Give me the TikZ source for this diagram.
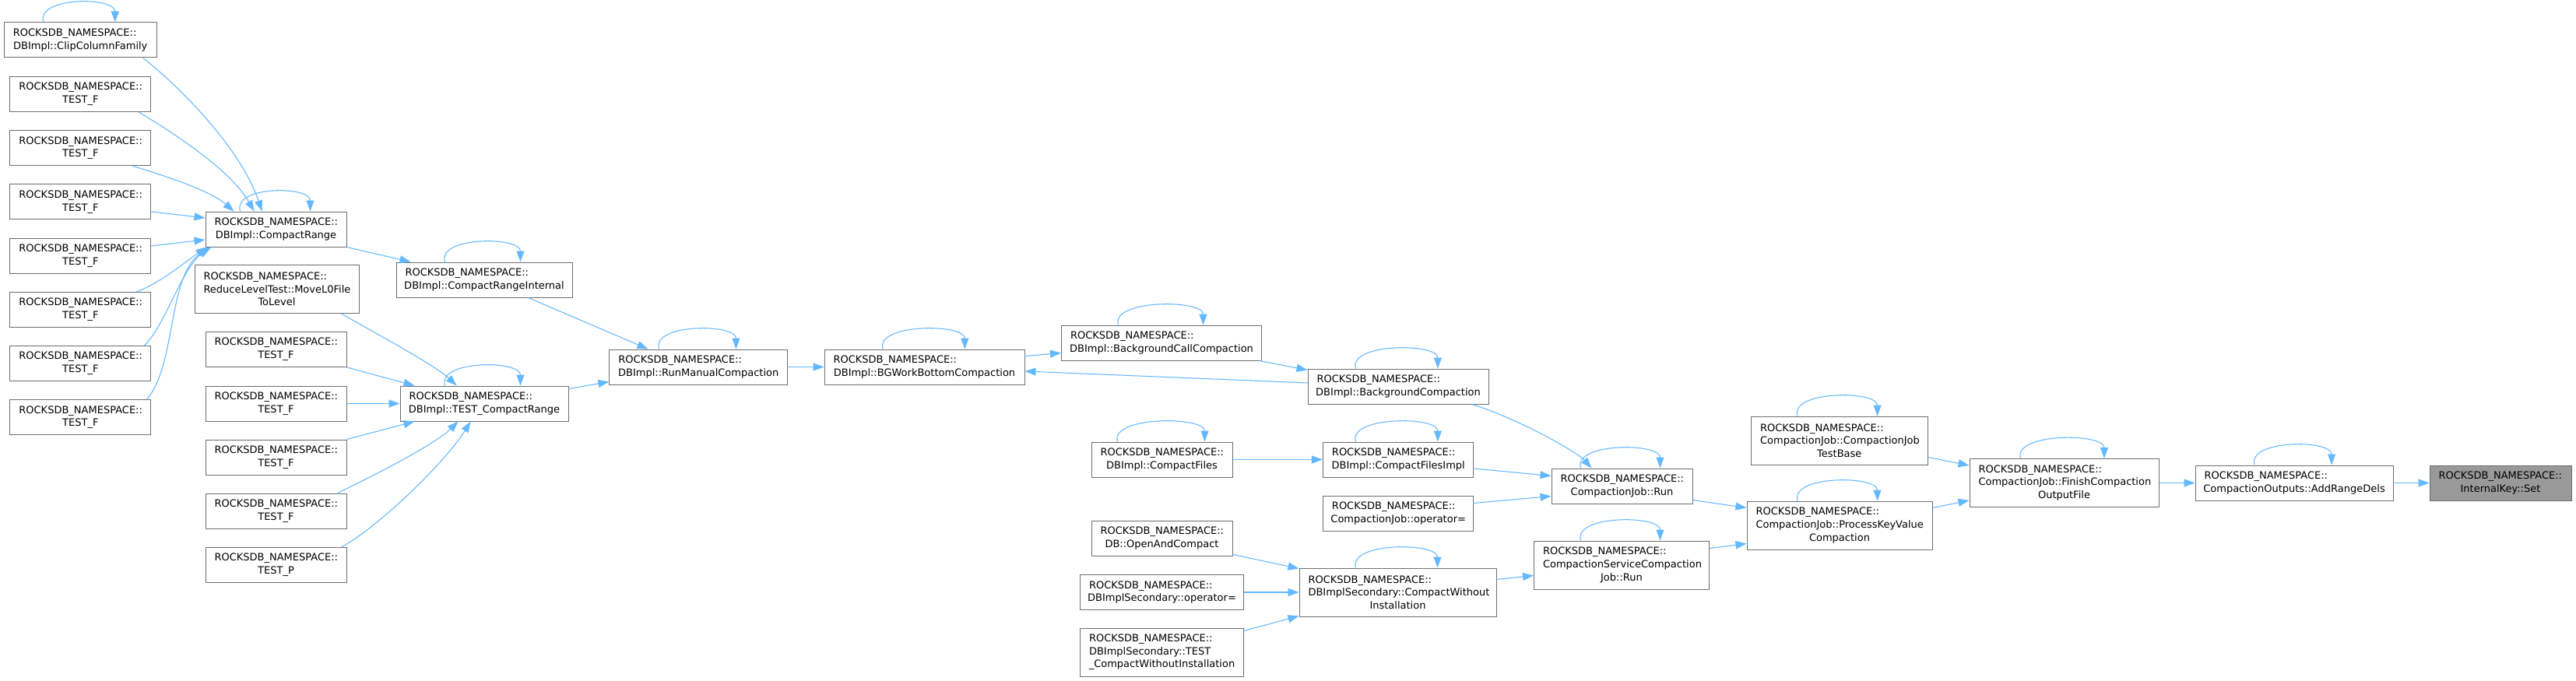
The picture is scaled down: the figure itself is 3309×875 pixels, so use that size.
\documentclass[tikz,border=0pt]{standalone}
\usepackage{fontspec}
\setmainfont{DejaVu Sans}
\usetikzlibrary{arrows.meta,calc}
\setlength\parindent{0pt}
\definecolor{boxline}{HTML}{6E6E6E}
\definecolor{hlfill}{HTML}{999999}
\definecolor{edgec}{HTML}{63B8FF}
\tikzset{
  box/.style 2 args={draw=boxline, fill=white, line width=1pt, minimum width=#1pt,
    text width=#2pt, minimum height=45pt, inner xsep=9pt, inner ysep=0pt,
    align=center, font=\fontsize{13}{16.7}\selectfont},
  tall/.style={minimum height=62pt},
  hl/.style={fill=hlfill, draw=boxline},
  edge/.style={draw=edgec, line width=1.05pt, -{Triangle[length=14pt,width=10pt]}},
}
\newcommand\Ln[1]{\makebox[\hsize][l]{\hspace{2.5pt}#1}}
\newcommand\NS{\Ln{ROCKSDB\_NAMESPACE::}}
\newcommand\selfloop[3]{\draw[edge] ($(#1.north west)+(#2,0)$) .. controls +(-10,-33) and +(0,-33) .. ($(#1.north west)+(#3,0)$);}
\begin{document}
\begin{tikzpicture}[x=1pt,y=-1pt]
\fill[white] (0,0) rectangle (3309,875);
\useasboundingbox (0,0) rectangle (3309,875);
% column A
\node[box={196}{178}] (clip) at (103.3,51.5) {\NS\\DBImpl::ClipColumnFamily};
\node[box={181}{163}] (ta1) at (103.4,121) {\NS\\TEST\_F};
\node[box={181}{163}] (ta2) at (103.4,190.2) {\NS\\TEST\_F};
\node[box={181}{163}] (ta3) at (103.4,259.4) {\NS\\TEST\_F};
\node[box={181}{163}] (ta4) at (103.4,328.6) {\NS\\TEST\_F};
\node[box={181}{163}] (ta5) at (103.4,397.8) {\NS\\TEST\_F};
\node[box={181}{163}] (ta6) at (103.4,467) {\NS\\TEST\_F};
\node[box={181}{163}] (ta7) at (103.4,536.2) {\NS\\TEST\_F};
% column B
\node[box={181}{163}] (cr) at (354.5,294.5) {\NS\\DBImpl::CompactRange};
\node[box={211}{193},tall] (red) at (355.5,371.5) {\NS\\\Ln{ReduceLevelTest::MoveL0File}\\ToLevel};
\node[box={181}{163}] (tb1) at (354.5,449) {\NS\\TEST\_F};
\node[box={181}{163}] (tb2) at (354.5,518.5) {\NS\\TEST\_F};
\node[box={181}{163}] (tb3) at (354.5,587.5) {\NS\\TEST\_F};
\node[box={181}{163}] (tb4) at (354.5,656.5) {\NS\\TEST\_F};
\node[box={181}{163}] (tp) at (354.5,726) {\NS\\TEST\_P};
% column C
\node[box={226}{208}] (cri) at (622,359.5) {\NS\\DBImpl::CompactRangeInternal};
\node[box={216}{198}] (tcr) at (622,518.5) {\NS\\DBImpl::TEST\_CompactRange};
% column D, E
\node[box={228.5}{210.5}] (rmc) at (897.2,471.5) {\NS\\DBImpl::RunManualCompaction};
\node[box={257}{239}] (bgw) at (1187.5,471.5) {\NS\\DBImpl::BGWorkBottomCompaction};
% column F
\node[box={257}{239}] (bcc) at (1492,440.5) {\NS\\DBImpl::BackgroundCallCompaction};
\node[box={181}{163}] (cf) at (1492.5,590.5) {\NS\\DBImpl::CompactFiles};
\node[box={181}{163}] (oac) at (1492.5,691.5) {\NS\\DB::OpenAndCompact};
\node[box={210}{192}] (dso) at (1492.5,761) {\NS\\DBImplSecondary::operator=};
\node[box={210}{192},tall] (dst) at (1492.5,838) {\NS\\\Ln{DBImplSecondary::TEST}\\\_CompactWithoutInstallation};
% column G
\node[box={232}{214}] (bc) at (1796,496.5) {\NS\\DBImpl::BackgroundCompaction};
\node[box={193.5}{175.5}] (cfi) at (1796.2,590.5) {\NS\\DBImpl::CompactFilesImpl};
\node[box={193.5}{175.5}] (cjo) at (1796.2,659.5) {\NS\\CompactionJob::operator=};
\node[box={253}{235},tall] (cwi) at (1795.5,761) {\NS\\\Ln{DBImplSecondary::CompactWithout}\\Installation};
% column H
\node[box={181}{163}] (run) at (2083.5,624.5) {\NS\\CompactionJob::Run};
\node[box={225}{207},tall] (cscj) at (2083,726) {\NS\\\Ln{CompactionServiceCompaction}\\Job::Run};
% column I
\node[box={226.5}{208.5},tall] (cjtb) at (2362.8,566) {\NS\\\Ln{CompactionJob::CompactionJob}\\TestBase};
\node[box={238}{220},tall] (pkvc) at (2363,675) {\NS\\\Ln{CompactionJob::ProcessKeyValue}\\Compaction};
% column J, K, L
\node[box={243}{225},tall] (fcof) at (2651.5,620.5) {\NS\\\Ln{CompactionJob::FinishCompaction}\\OutputFile};
\node[box={254}{236}] (ard) at (2947,620.5) {\NS\\CompactionOutputs::AddRangeDels};
\node[box={182}{164},hl] (set) at (3212,620.5) {\NS\\InternalKey::Set};

% edges into CompactRange
\selfloop{clip}{51}{143}
\draw[edge] ($(clip.south west)+(179,0)$) .. controls +(46,36) and +(-27,-81) .. ($(cr.north west)+(73,0)$);
\draw[edge] ($(ta1.south west)+(166,0)$) .. controls +(36,22) and +(-32,-56) .. ($(cr.north west)+(63,0)$);
\draw[edge] ($(ta2.south west)+(158,0)$) .. controls +(39,12) and +(-31,-27) .. ($(cr.north west)+(37,0)$);
\draw[edge] ($(ta3.east)+(0,12.6)$) -- ($(cr.west)+(0,-14.5)$);
\draw[edge] ($(ta4.east)+(0,-12.6)$) -- ($(cr.west)+(0,13.5)$);
\draw[edge] ($(ta5.north west)+(163,0)$) .. controls +(29,-10) and +(-26,18) .. ($(cr.south west)+(2,0)$);
\draw[edge] ($(ta6.north west)+(173,0)$) .. controls +(26,-25) and +(-36,33) .. ($(cr.south west)+(4,0)$);
\draw[edge] ($(ta7.north west)+(176,0)$) .. controls +(39,-44) and +(-57,33) .. ($(cr.south west)+(8,0)$);
\selfloop{cr}{45}{135}
\draw[edge] (cr.south east) -- ($(cri.north west)+(19,0)$);
\selfloop{cri}{63}{160}
\draw[edge] ($(cri.south west)+(170,0)$) -- ($(rmc.north west)+(50,0)$);
% edges into TEST_CompactRange
\draw[edge] ($(red.south west)+(189,0)$) .. controls +(31,18) and +(-27,-26) .. ($(tcr.north west)+(73,0)$);
\draw[edge] (tb1.south east) -- ($(tcr.north west)+(19,0)$);
\draw[edge] (tb2.east) -- (tcr.west);
\draw[edge] (tb3.north east) -- ($(tcr.south west)+(19,0)$);
\draw[edge] ($(tb4.north west)+(170,0)$) .. controls +(46,-22) and +(-29,29) .. ($(tcr.south west)+(75,0)$);
\draw[edge] ($(tp.north west)+(175,0)$) .. controls +(51,-28) and +(-30,49) .. ($(tcr.south west)+(91,0)$);
\selfloop{tcr}{58}{155}
\draw[edge] ($(tcr.north east)+(0,4)$) -- ($(rmc.south west)+(0,-4)$);
% middle chain
\selfloop{rmc}{64}{163}
\draw[edge] (rmc.east) -- (bgw.west);
\selfloop{bgw}{75.6}{180.8}
\draw[edge] ($(bgw.north east)+(0,9)$) -- ($(bcc.south west)+(0,-10)$);
\selfloop{bcc}{73.5}{182.5}
\draw[edge] ($(bcc.south east)+(-3,0)$) -- ($(bc.north west)+(0,2)$);
\draw[edge] ($(bc.west)+(0,-4.5)$) -- ($(bgw.east)+(0,5.5)$);
\selfloop{bc}{62}{167.4}
\draw[edge] ($(bc.south west)+(211,0)$) .. controls +(54,16) and +(-20,-22) .. ($(run.north west)+(52,0)$);
\selfloop{cf}{34}{146}
\draw[edge] (cf.east) -- (cfi.west);
\selfloop{cfi}{42.5}{147.9}
\draw[edge] ($(cfi.east)+(0,11.5)$) -- ($(run.north west)+(0,10)$);
\draw[edge] ($(cjo.north east)+(0,10)$) -- ($(run.south west)+(0,-10)$);
\selfloop{run}{38}{140}
\draw[edge] ($(run.south east)+(0,-5)$) -- ($(pkvc.north west)+(0,9)$);
% secondary chain
\draw[edge] ($(oac.south east)+(0,-2)$) -- ($(cwi.north west)+(0,1)$);
\draw[edge] (dso.east) -- (cwi.west);
\draw[edge] ($(dst.north east)+(0,4)$) -- ($(cwi.south west)+(0,-1)$);
\selfloop{cwi}{73}{178}
\draw[edge] ($(cwi.north east)+(0,15)$) -- ($(cscj.north west)+(0,45)$);
\selfloop{cscj}{60.5}{162.5}
\draw[edge] ($(cscj.north east)+(0,10)$) -- ($(pkvc.south west)+(0,-8)$);
% right part
\selfloop{cjtb}{60}{162.5}
\draw[edge] ($(cjtb.south east)+(0,-10)$) -- ($(fcof.north west)+(0,9)$);
\selfloop{pkvc}{65.6}{168}
\draw[edge] ($(pkvc.north east)+(0,9)$) -- ($(fcof.south west)+(0,-9)$);
\selfloop{fcof}{66}{173.5}
\draw[edge] (fcof.east) -- (ard.west);
\selfloop{ard}{76.6}{175.6}
\draw[edge] (ard.east) -- (set.west);
\end{tikzpicture}
\end{document}
